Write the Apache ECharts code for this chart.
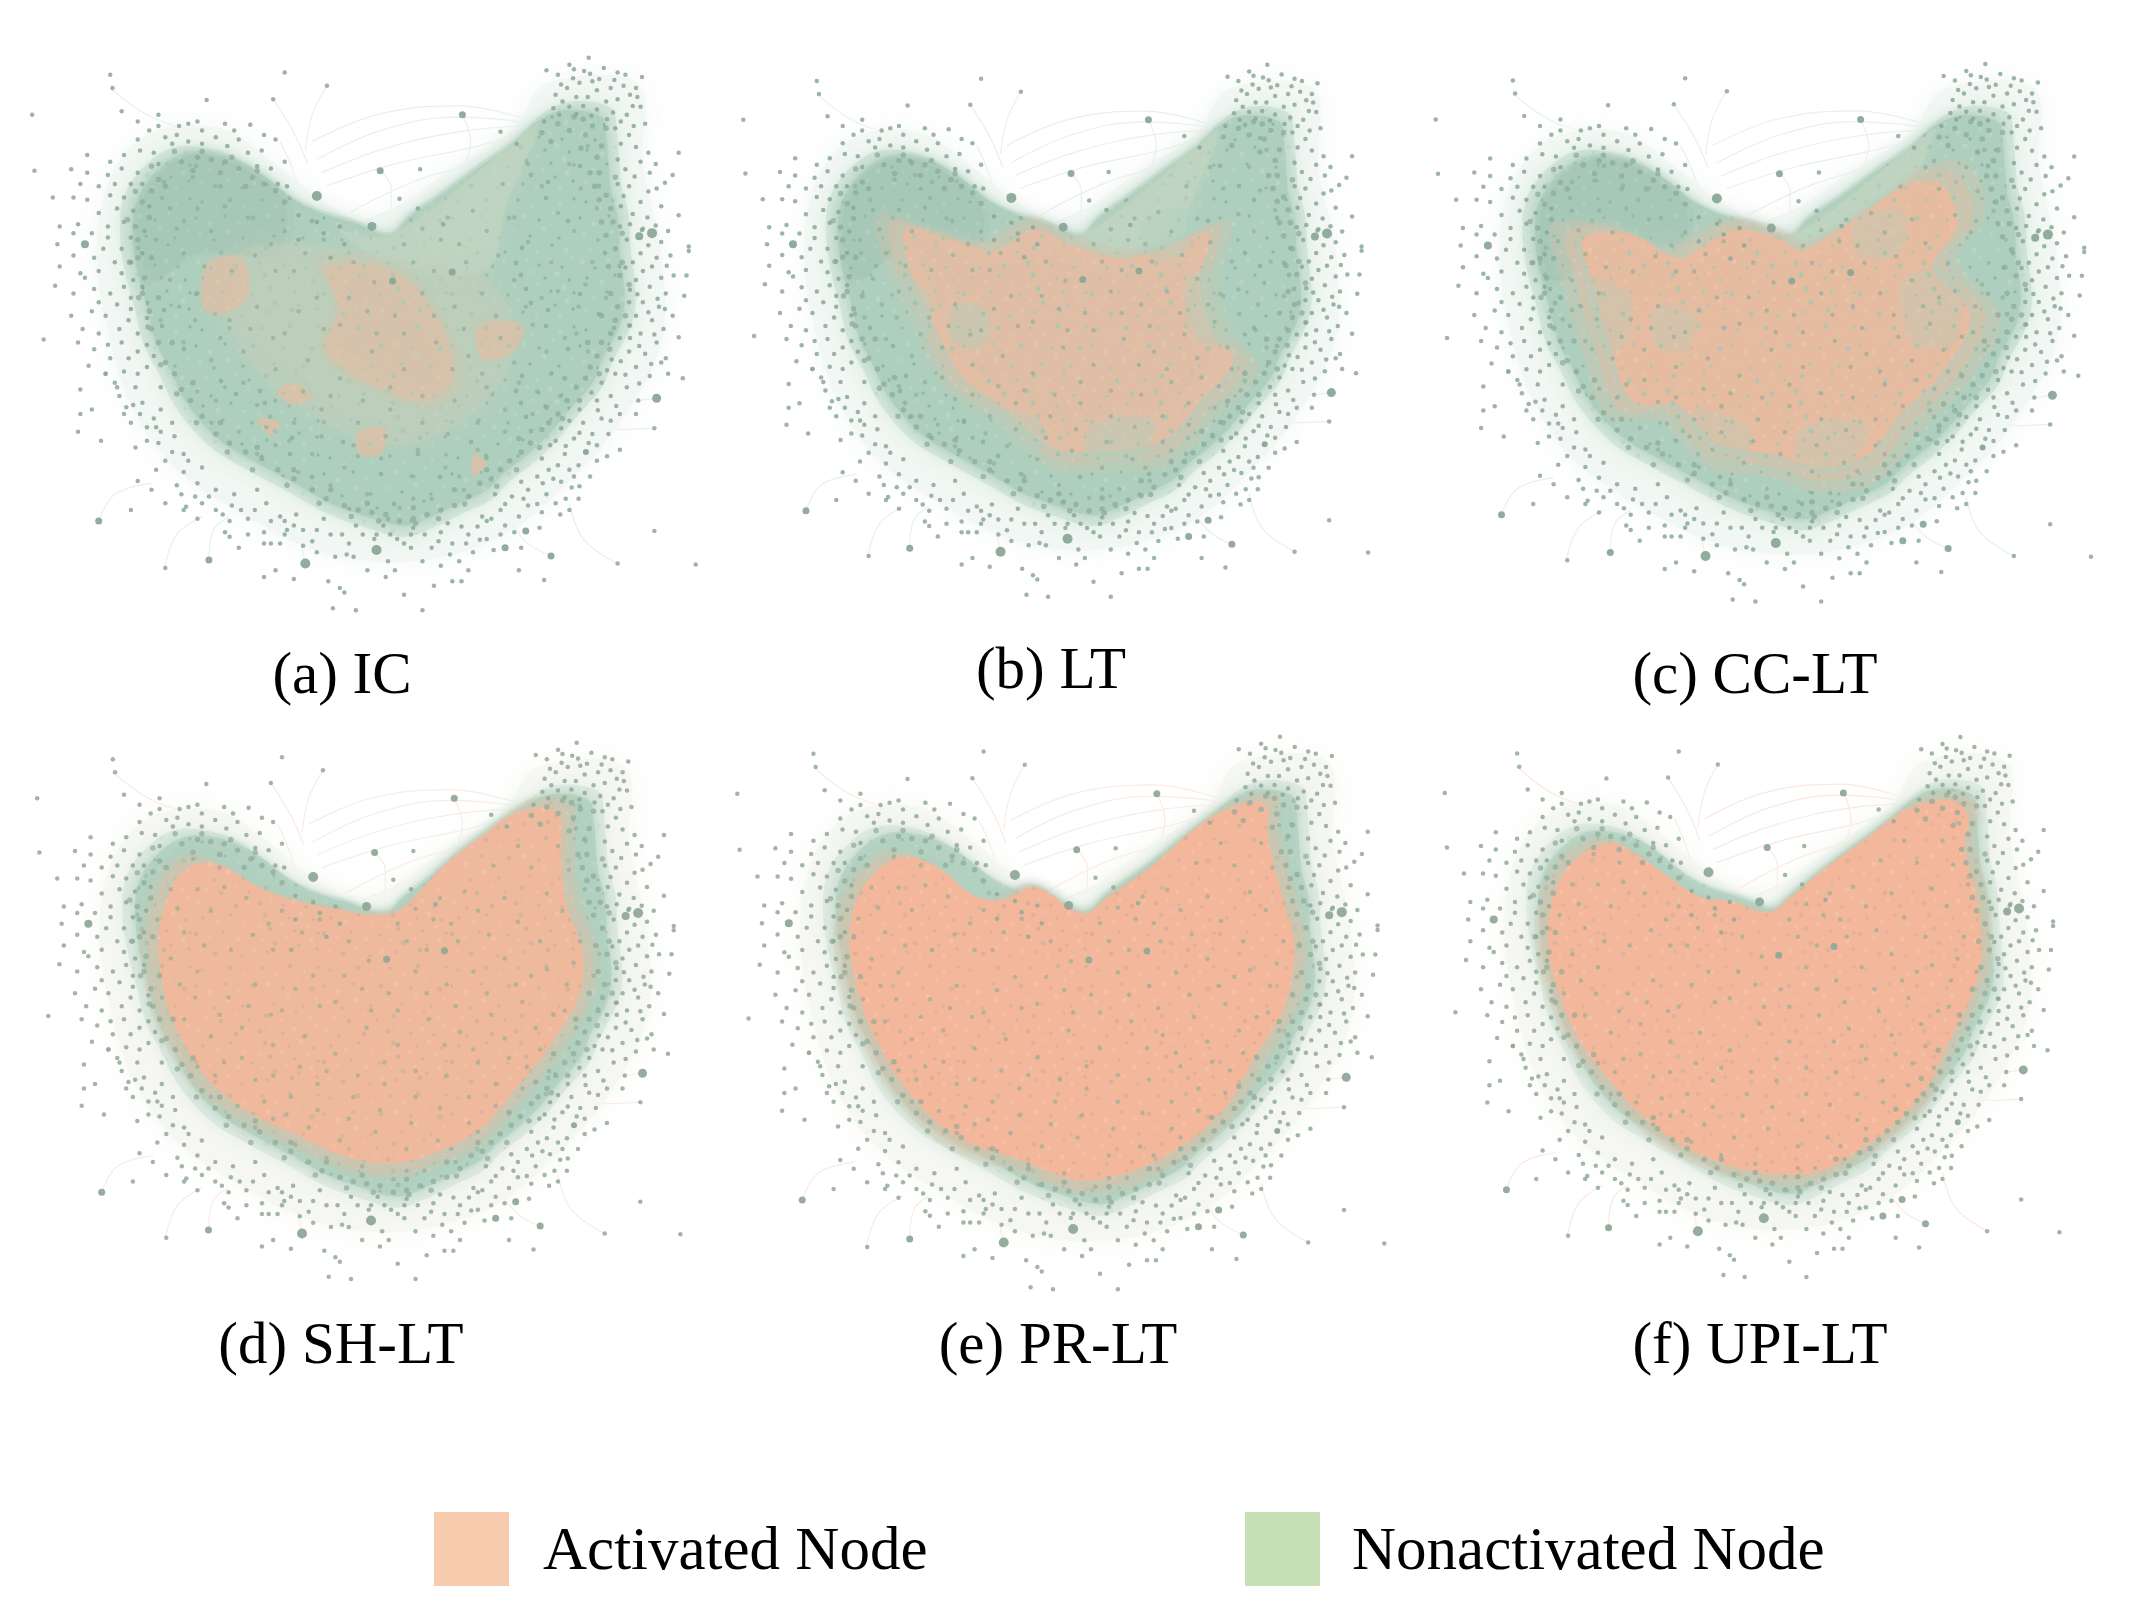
<!DOCTYPE html>
<html>
<head>
<meta charset="utf-8">
<title>Activated nodes by model</title>
<script src="https://cdn.jsdelivr.net/npm/echarts@6/dist/echarts.min.js"></script>
<style>
  html, body { margin: 0; padding: 0; background: #fff; }
  #chart { width: 2155px; height: 1615px; }
</style>
</head>
<body>
<div id="chart"></div>
<script>
// 六个子图共用同一网络布局，坐标都是从图 (a) 上读出来的
const panelNames = ['(a) IC', '(b) LT', '(c) CC-LT', '(d) SH-LT', '(e) PR-LT', '(f) UPI-LT'];

// 节点团主体轮廓
const bodyOutline = [[1170,205],[1230,180],[1310,195],[1320,240],[1325,300],[1330,360],[1345,420],[1350,500],[1360,600],[1350,660],[1310,740],[1290,790],[1240,850],[1200,900],[1150,950],[1100,990],[1060,1030],[1000,1060],[940,1090],[880,1110],[800,1090],[720,1060],[650,1020],[560,970],[480,920],[410,840],[370,760],[340,700],[320,620],[300,540],[290,450],[300,380],[340,320],[400,280],[470,280],[530,300],[590,340],[640,380],[700,410],[780,435],[850,460],[890,420],[960,370],[1040,310],[1110,260]];
const haloOutline = [[1190,120],[1390,120],[1400,300],[1440,500],[1440,700],[1350,880],[1250,1000],[1100,1130],[900,1190],[700,1170],[520,1080],[380,980],[290,850],[240,700],[210,500],[240,330],[330,230],[480,220],[600,300],[700,380],[800,425],[1000,300],[1120,220]];
const leftLobe = [[300,420],[350,320],[430,280],[530,310],[620,390],[600,500],[430,500],[330,560]];
const sageWedge = [[850,460],[1100,270],[1170,215],[1100,400],[1060,540],[850,520],[740,450]];
const paleCore = [[640,480],[900,520],[1060,560],[1120,700],[1030,860],[850,930],[680,860],[560,760],[480,600],[520,500]];

// 各子图中被激活的区域
const activatedA = [
  [[450,520],[530,510],[540,600],[480,640],[440,620]],
  [[700,520],[860,530],[960,640],[1000,780],[940,840],[800,800],[700,720],[730,620]],
  [[640,790],[680,820],[640,840],[600,810]],
  [[1040,660],[1140,660],[1120,720],[1050,740]],
  [[560,870],[610,880],[590,910]],
  [[780,900],[840,890],[830,950],[780,950]],
  [[1030,950],[1060,970],[1030,1000]]
];
const activatedB = [[[739,427],[832,469],[946,500],[1049,479],[1173,438],[1152,562],[1183,687],[1235,760],[1152,863],[1049,967],[894,988],[781,978],[636,863],[553,801],[492,687],[430,552],[409,427],[512,448],[636,479]]];
const activatedC = [[[822,448],[881,478],[1019,396],[1137,314],[1216,314],[1255,417],[1196,519],[1285,643],[1216,787],[1117,890],[1039,992],[920,1023],[822,992],[674,962],[586,869],[477,859],[418,705],[379,561],[359,448],[477,441],[586,499],[645,468],[723,427]]];
const activatedD = [[[1165,206],[1255,206],[1265,320],[1275,423],[1315,546],[1305,650],[1235,773],[1155,876],[1075,969],[985,1020],[885,1051],[775,1041],[655,989],[515,917],[425,835],[355,711],[325,588],[325,474],[375,350],[455,330],[565,392],[655,423],[755,443],[815,454],[885,443],[985,340],[1075,268]]];
const activatedE = [[[1172,214],[1262,199],[1272,284],[1307,424],[1332,524],[1312,664],[1242,784],[1172,904],[1072,994],[952,1054],[832,1074],[692,1024],[552,974],[442,874],[362,744],[317,624],[302,494],[332,394],[412,324],[502,344],[592,414],[652,424],[732,394],[842,454],[902,414],[1002,344],[1092,264]]];
const activatedF = [[[1166,216],[1264,194],[1313,226],[1307,306],[1329,395],[1345,494],[1345,584],[1307,693],[1264,773],[1209,882],[1122,972],[1035,1031],[959,1071],[861,1081],[742,1061],[622,1012],[525,942],[448,862],[372,763],[323,653],[296,544],[307,425],[361,335],[448,296],[514,325],[601,385],[666,425],[742,435],[829,460],[883,425],[970,355],[1068,286]]];
const activatedRegions = [activatedA, activatedB, activatedC, activatedD, activatedE, activatedF];
// (b)(c) 中未激活的斑块
const greenPatches = [
  [[420,560],[500,600],[480,720],[420,700]],
  [[1100,560],[1200,540],[1220,700],[1120,700]],
  [[640,860],[760,900],[740,980],[640,920]],
  [[880,900],[1020,890],[980,990],[870,980]],
  [[560,620],[640,640],[620,720],[550,700]],
  [[1000,420],[1100,400],[1090,500],[1000,500]]
];

// 外围节点
const fringeNodes = [
1190,90,1215,100,1240,78,1250,88,1282,62,1285,98,1315,85,1345,95,1362,100,1398,105,1235,130,1262,118,1290,115,1300,135,1330,130,1358,125,1385,130,1210,145,1225,160,1255,150,1280,150,1320,160,1345,155,1378,170,1395,172,1205,175,1240,172,1270,170,1300,178,1335,185,1365,190,1185,205,1405,210,1340,220,1370,235,1345,290,1395,295,1428,300,1415,320,1478,275,1465,325,1430,355,1370,350,1345,345,1395,385,1440,395,1478,415,1410,420,1455,450,1500,485,1500,495,1460,505,1430,510,1395,500,1365,470,1350,440,
1400,540,1440,555,1467,550,1495,550,1385,560,1415,575,1450,590,1490,595,1370,610,1400,610,1435,620,1465,640,1385,640,1420,650,1445,670,1395,680,1350,690,1478,688,1430,700,1370,720,1405,725,1450,735,1440,745,1385,755,1340,770,1487,780,1415,775,1310,790,1365,800,1390,830,1330,820,1300,830,1350,860,1385,860,1425,892,1310,870,1270,880,1240,875,1290,905,1325,905,
1210,920,1250,915,1300,930,1350,940,1275,945,1230,950,1180,960,1215,975,1260,975,1300,965,1170,1000,1205,1005,1250,1000,1285,1000,1150,1030,1190,1040,1245,1025,1115,1045,1150,1065,1210,1060,1260,1050,1090,1075,1130,1090,1180,1080,1220,1085,1050,1090,1100,1110,1060,1140,1020,1130,1075,1165,1030,1170,985,1150,960,1125,940,1160,1000,1190,960,1200,1020,1210,920,1190,880,1150,
850,1130,790,1130,760,1150,720,1130,690,1120,660,1120,640,1110,620,1100,610,1150,590,1150,540,1130,520,1160,715,1235,740,1250,750,1260,725,1295,775,1300,920,1300,880,1265,840,1225,860,1210,800,1210,770,1180,730,1180,690,1170,640,1230,575,1225,600,1210,945,1245,985,1235,1005,1235,1130,1210,1185,1232,1345,1195,1515,1197,1425,1122,
500,1100,490,1125,540,1095,580,1060,610,1090,620,1130,470,1075,440,1060,400,1075,395,1040,430,1015,470,1030,510,1040,560,1030,360,1060,330,1030,360,965,400,990,440,980,400,950,345,925,380,910,320,920,295,935,320,890,285,880,220,920,170,900,175,860,200,850,260,820,295,800,290,840,350,850,340,890,300,1010,285,1075,360,1205,405,1068,
95,693,120,573,175,805,193,752,250,790,240,735,280,735,300,720,180,670,215,680,260,670,300,680,155,640,200,630,230,640,280,650,160,590,205,580,240,590,285,600,130,530,175,545,215,540,265,545,290,560,125,480,225,490,265,490,130,440,170,435,235,440,270,430,115,375,160,375,190,380,240,370,270,375,75,315,155,312,190,320,235,325,265,310,300,320,190,280,240,295,270,280,305,270,265,182,300,205,345,190,390,215,325,225,360,240,410,210,430,205,490,210,545,212,470,240,520,245,570,270,600,245,620,295,590,310,240,100,245,130,450,157,595,155,620,95,712,125,70,190,
1090,228,1125,255,870,378,915,312,910,400,965,435,650,415,690,430,740,440,705,455,750,480,720,510,650,470,
1222,122,1248,108,1272,92,1305,110,1338,112,1372,145,1388,150,1218,190,1255,188,1288,192,1322,200,1352,205,1380,215,1352,255,1385,262,1362,312,1412,275,1448,342,1382,328,1358,372,1412,362,1378,412,1352,395,1428,438,1398,448,1372,435,1440,475,1412,482,1378,520,1420,530,1362,532,1452,528,1388,592,1432,602,1372,582,1412,632,1372,662,1448,625,1425,682,1372,690,1392,708,1352,742,1418,748,1332,738,1362,772,1392,792,1455,770,1322,762,1288,812,1342,842,1302,852,1262,850,1222,892,1262,902,1198,930,1232,932,1322,955,1282,925,1195,985,1240,985,1222,1012,1182,1015,1135,1012,1262,1022,1140,1050,1170,1062,1232,1050,1100,1062,1078,1040,1060,1100,1120,1125,1090,1130,1040,1112,1005,1112,1045,1142,1015,1150,975,1105,955,1145,925,1130,900,1115,895,1160,865,1140,835,1110,815,1140,775,1110,745,1130,705,1095,680,1145,645,1085,625,1120,590,1100,575,1125,555,1075,525,1075,505,1065,485,1085,455,1045,425,1045,385,1020,410,965,375,945,350,900,335,870,305,860,375,880,300,770,270,765,320,755,350,800,310,835,275,845,255,800,230,770,265,700,235,705,320,705,335,730,205,715,170,700,285,625,320,645,255,615,215,610,270,575,310,575,185,555,250,520,285,520,310,500,205,510,160,505,235,465,285,465,315,450,200,455,160,455,215,410,255,400,290,405,325,395,175,345,215,350,250,345,285,345,310,345,345,300,375,255,410,250,440,255,495,260,540,275,560,305,605,345,625,350,335,275,300,245,345,215,385,235,440,225,510,225,575,235,
1135,1160,980,1175,895,1130,820,1130,845,1190,755,1175,660,1155,575,1150,500,1135,430,1095,340,985,270,860,230,770,1400,445,1370,662,1330,875,1175,1115,1070,1095,1240,1075
];
// 主体边缘的密集节点
const rimNodes = [
1180,230,1215,210,1290,215,1310,260,1305,320,1320,370,1335,430,1340,490,1350,550,1345,620,1330,680,1300,730,1275,780,1235,830,1195,880,1155,925,1110,965,1070,1005,1020,1045,960,1075,900,1095,840,1085,780,1075,710,1050,640,1005,570,960,500,925,440,865,395,805,360,745,330,670,310,590,300,510,295,440,310,385,345,335,395,295,460,290,520,310,575,345,620,385,
1250,195,1300,285,1330,400,1355,520,1340,650,1285,755,1215,860,1135,945,1045,1015,990,1065,870,1100,750,1065,605,985,470,905,415,830,345,700,315,555,300,470,330,360,430,285,490,295,550,330,1200,250,1275,235,1295,350,1320,460,1330,590,1310,700,1255,800,1180,895,1090,985,930,1085,810,1080,680,1030,535,945,380,770,325,630,
1270,200,1320,220,1340,330,1355,455,1370,570,1362,640,1328,715,1305,770,1262,830,1225,870,1175,935,1125,985,1082,1022,1012,1062,955,1095,905,1105,825,1100,765,1090,695,1060,625,1020,550,985,495,945,428,880,385,815,350,750,322,665,302,600,282,520,278,425,295,362,330,305,380,272,440,272,505,285,560,315,600,360,
1240,225,1265,265,1285,320,1305,380,1310,430,1325,530,1310,640,1280,700,1230,780,1190,845,1130,915,1060,985,990,1030,900,1070,800,1060,720,1030,640,985,560,935,480,880,420,790,375,700,345,600,330,510,325,420,360,350,420,315,480,320,535,350
];
// 主体内部节点
const innerNodes = [
1000,480,1060,450,960,470,900,520,1120,420,1180,350,1240,300,1280,260,1300,400,1250,450,1200,520,1290,520,1320,600,1260,620,1180,600,1120,560,1050,590,990,620,920,590,860,640,800,630,740,660,690,600,640,540,590,480,540,420,480,350,420,330,370,400,340,470,400,500,460,450,370,560,430,590,500,650,560,620,620,680,350,650,400,700,460,740,530,720,600,760,670,740,740,780,810,720,880,760,950,700,1020,730,1090,690,1160,660,1230,690,1280,720,1200,770,1130,790,1060,800,990,830,920,880,850,850,780,880,700,850,640,880,560,840,490,800,430,810,520,900,600,930,680,950,750,980,830,960,900,1000,970,980,1040,940,1100,900,1160,860,1220,820,800,1040,870,1070,940,1050,720,1020,650,990,1010,1030,560,950,460,880,
620,450,665,500,705,470,770,520,815,565,880,480,945,540,1015,520,1085,505,1150,475,1215,410,1265,355,1150,300,1095,345,1030,405,975,420,920,445,600,540,555,505,505,540,445,530,385,445,430,400,490,395,1215,585,1275,570,1145,620,1080,640,1010,670,945,640,880,680,820,680,760,600,705,670,650,630,595,690,545,670,480,690,425,650,390,620,1255,680,1190,720,1120,745,1050,770,985,760,920,820,850,800,790,830,720,820,660,810,600,830,530,790,470,830,1170,810,1100,850,1040,880,975,905,910,940,840,910,770,930,700,910,630,920,580,890,1060,960,1000,1000,900,1050
];
// 度数较大的节点 [x, y, 大小]
const hubNodes = [[690,372,10],[810,440,9],[828,315,7],[1007,190,7],[855,562,7],[985,542,7],[1430,825,9],[1420,455,10],[1392,462,8],[215,1100,7],[455,1187,7],[665,1195,10],[820,1165,10],[1100,1160,7],[1145,1122,7],[1200,1178,7],[185,480,8],[1276,945,6]];

// 顶部与末梢的淡色连边，'-' 处断开
const edgeCurves = [
[1160,205],[1000,170],[820,190],[680,250],['-','-'],
[1165,210],[1000,195],[830,225],[690,290],['-','-'],
[1170,215],[1020,225],[840,265],[700,320],['-','-'],
[1170,220],[1040,260],[860,300],[710,350],['-','-'],
[1170,225],[1050,290],[900,340],[760,410],['-','-'],
[1170,230],[1040,320],[920,375],[800,425],['-','-'],
[1007,190],[1025,250],[1005,320],['-','-'],
[828,315],[852,355],[850,445],['-','-'],
[610,250],[640,320],[660,400],['-','-'],
[215,1100],[250,1040],[330,1015],['-','-'],
[455,1187],[465,1120],[500,1090],['-','-'],
[358,1205],[385,1130],[440,1090],['-','-'],
[665,1195],[655,1130],[665,1090],['-','-'],
[1430,825],[1350,832],[1295,810],['-','-'],
[1425,892],[1350,895],[1280,860],['-','-'],
[1200,1178],[1150,1150],[1110,1100],['-','-'],
[1345,1195],[1270,1140],[1240,1060],['-','-'],
[595,155],[640,230],[670,300],['-','-'],
[712,125],[680,190],[665,270],['-','-'],
[240,130],[320,190],[400,220]
];

// 纹理小块上的斑点
const tileDots = [4,7,15,3,27,9,38,5,50,11,60,2,9,19,21,16,33,22,45,18,57,24,3,30,14,33,26,28,39,35,52,31,62,37,7,44,19,47,31,42,43,49,55,45,11,56,24,59,36,54,48,60,61,53,70,6,83,12,96,4,108,10,120,5,75,22,90,26,103,19,116,27,68,38,81,41,95,36,110,43,124,39,73,55,87,58,100,52,114,60,126,55,6,72,20,78,34,70,48,76,62,71,12,88,27,92,41,85,56,93,3,104,18,108,32,101,47,110,60,103,10,120,25,124,40,117,54,122,74,74,88,80,102,72,117,79,68,90,82,96,97,88,111,95,125,90,72,106,86,112,100,104,115,110,78,122,93,125,107,119,121,124];

const panelLefts = [0, 713, 1404, 6, 706, 1415];
const panelTops = [30, 38, 37, 716, 709, 710];
const panelWidths = [720, 678, 711, 698, 702, 667];
const panelHeights = [700, 674, 681, 679, 700, 684];
const labelCenters = [342, 1051, 1755, 341, 1058, 1760];
const labelBaselines = [696, 691, 696, 1366, 1366, 1366];
const activatedOpacity = [0.45, 0.68, 0.8, 0.95, 1, 1];
const softOuter = [1.07, 1.07, 1.07, 1.035, 1.03, 1.025];
const softInner = [0.92, 0.92, 0.92, 0.96, 0.965, 0.97];
const activatedSpeckle = ['#b2c6b2', '#aec3af', '#b3c3ad', '#dbb296', '#deb196', '#e0b297'];
const bodyOpacity = [1, 1, 1, 0.75, 0.7, 0.65];
const edgeColors = ['#e9f0ec', '#e9f0ec', '#eaf0ec', '#f8ece6', '#faebe3', '#fbe9e0'];
const haloColors = ['#f0f6f2', '#f0f6f2', '#f0f6f2', '#f5f6f1', '#f5f6f1', '#f5f6f1'];
const nodeColors = ['#8aa898', '#8aa898', '#8aa898', '#90a998', '#90a998', '#90a998'];

const ACTIVATED_NAME = 'Activated Node';
const NONACTIVATED_NAME = 'Nonactivated Node';
// 图例色块：下方留空，让文字比色块中心略低
const swatchIcon = 'path://M0 0H75V74H0ZM0 82H0.01V82Z';

function makeTile(base, dark, light) {
    const canvas = document.createElement('canvas');
    canvas.width = 128;
    canvas.height = 128;
    const ctx = canvas.getContext('2d');
    ctx.fillStyle = base;
    ctx.fillRect(0, 0, 128, 128);
    for (let i = 0; i < tileDots.length; i += 2) {
        ctx.fillStyle = i % 4 === 0 ? dark : light;
        ctx.beginPath();
        ctx.arc(tileDots[i], tileDots[i + 1], i % 6 === 0 ? 2.4 : 1.7, 0, Math.PI * 2);
        ctx.fill();
    }
    return { image: canvas, repeat: 'repeat' };
}

const greenFill = makeTile('#afcfbe', '#93b6a3', '#b9d5c5');
const darkGreenFill = makeTile('#a3c4b2', '#89ad9a', '#adcdbb');

// 将扁平数组转成点对
function toPairs(flat) {
    const pairs = [];
    for (let i = 0; i < flat.length; i += 2) {
        pairs.push([flat[i], flat[i + 1]]);
    }
    return pairs;
}

// 围绕重心缩放轮廓，用来做柔和的边缘
function scaled(points, k) {
    const cx = points.reduce((s, p) => s + p[0], 0) / points.length;
    const cy = points.reduce((s, p) => s + p[1], 0) / points.length;
    return points.map(p => [cx + (p[0] - cx) * k, cy + (p[1] - cy) * k]);
}

function polygonSeries(name, points, panel, z, fill, opacity, blur) {
    return {
        name: name,
        type: 'custom',
        xAxisIndex: panel,
        yAxisIndex: panel,
        z: z,
        silent: true,
        data: points,
        renderItem: function(params, api) {
            if (params.dataIndex !== 0) return null;
            return {
                type: 'polygon',
                shape: { points: points.map(p => api.coord(p)), smooth: 0.35 },
                style: {
                    fill: fill,
                    opacity: opacity,
                    shadowBlur: blur,
                    shadowColor: typeof fill === 'string' ? fill : '#afcfbe'
                }
            };
        }
    };
}

function scatterSeries(data, panel, z, size, color, opacity) {
    return {
        type: 'scatter',
        xAxisIndex: panel,
        yAxisIndex: panel,
        z: z,
        silent: true,
        symbolSize: size,
        itemStyle: { color: color, opacity: opacity },
        data: data
    };
}

const grids = [], xAxes = [], yAxes = [], series = [], labels = [];
panelNames.forEach(function(name, i) {
    grids.push({ left: panelLefts[i], top: panelTops[i], width: panelWidths[i], height: panelHeights[i] });
    xAxes.push({ type: 'value', gridIndex: i, min: 0, max: 1568, show: false });
    yAxes.push({ type: 'value', gridIndex: i, min: 0, max: 1568, inverse: true, show: false });

    series.push({
        type: 'line',
        xAxisIndex: i,
        yAxisIndex: i,
        z: 1,
        silent: true,
        smooth: 0.4,
        showSymbol: false,
        connectNulls: false,
        lineStyle: { color: edgeColors[i], width: 1.2 },
        data: edgeCurves
    });
    series.push(polygonSeries('halo', haloOutline, i, 2, haloColors[i], 0.8, 30));
    series.push(polygonSeries('bodySoft', scaled(bodyOutline, 1.05), i, 3, greenFill, 0.35 * bodyOpacity[i], 18));
    series.push(polygonSeries(NONACTIVATED_NAME, bodyOutline, i, 3, greenFill, bodyOpacity[i], 10));
    if (i < 3) {
        series.push(polygonSeries('lobe', scaled(leftLobe, 1.08), i, 4, darkGreenFill, 0.3, 14));
        series.push(polygonSeries('lobe', leftLobe, i, 4, darkGreenFill, 0.5, 14));
        series.push(polygonSeries('wedge', sageWedge, i, 4, '#c8d6c3', 0.45, 18));
        series.push(polygonSeries('core', paleCore, i, 4, '#c4cfba', 0.45, 24));
    }
    const orangeFill = makeTile('#f3b89c', activatedSpeckle[i], '#f5c0a6');
    activatedRegions[i].forEach(function(region) {
        series.push(polygonSeries(ACTIVATED_NAME, scaled(region, softOuter[i]), i, 5, orangeFill, 0.25 * activatedOpacity[i], 12));
        series.push(polygonSeries(ACTIVATED_NAME, region, i, 5, orangeFill, 0.45 * activatedOpacity[i], 10));
        series.push(polygonSeries(ACTIVATED_NAME, scaled(region, softInner[i]), i, 5, orangeFill, activatedOpacity[i], 12));
    });
    if (i === 1 || i === 2) {
        greenPatches.forEach(function(patch) {
            series.push(polygonSeries('patch', patch, i, 5, greenFill, i === 1 ? 0.24 : 0.18, 6));
        });
    }
    series.push(scatterSeries(toPairs(innerNodes), i, 6, 4.5, nodeColors[i], 0.6));
    series.push(scatterSeries(toPairs(rimNodes), i, 6, 5.5, nodeColors[i], 0.7));
    series.push(scatterSeries(toPairs(fringeNodes), i, 6, 4.5, nodeColors[i], 0.85));
    series.push(scatterSeries(hubNodes, i, 7, function(val) { return val[2]; }, nodeColors[i], 0.95));

    labels.push({
        type: 'text',
        x: labelCenters[i],
        y: labelBaselines[i] - 48,
        style: {
            text: name,
            align: 'center',
            verticalAlign: 'top',
            fill: '#000',
            font: '59px "Liberation Serif", serif'
        }
    });
});

const chart = echarts.init(document.getElementById('chart'));
chart.setOption({
    animation: false,
    backgroundColor: '#fff',
    grid: grids,
    xAxis: xAxes,
    yAxis: yAxes,
    legend: [
        {
            left: 434, top: 1512, padding: 0, icon: swatchIcon, itemWidth: 75, itemHeight: 82, selectedMode: false,
            textStyle: { fontFamily: 'Liberation Serif', fontSize: 61, color: '#000', padding: [0, 0, 0, 29] },
            data: [{ name: ACTIVATED_NAME, itemStyle: { color: '#f7cbae' } }]
        },
        {
            left: 1245, top: 1512, padding: 0, icon: swatchIcon, itemWidth: 75, itemHeight: 82, selectedMode: false,
            textStyle: { fontFamily: 'Liberation Serif', fontSize: 61, color: '#000', padding: [0, 0, 0, 27] },
            data: [{ name: NONACTIVATED_NAME, itemStyle: { color: '#c5e0b5' } }]
        }
    ],
    graphic: labels,
    series: series
});
</script>
</body>
</html>
